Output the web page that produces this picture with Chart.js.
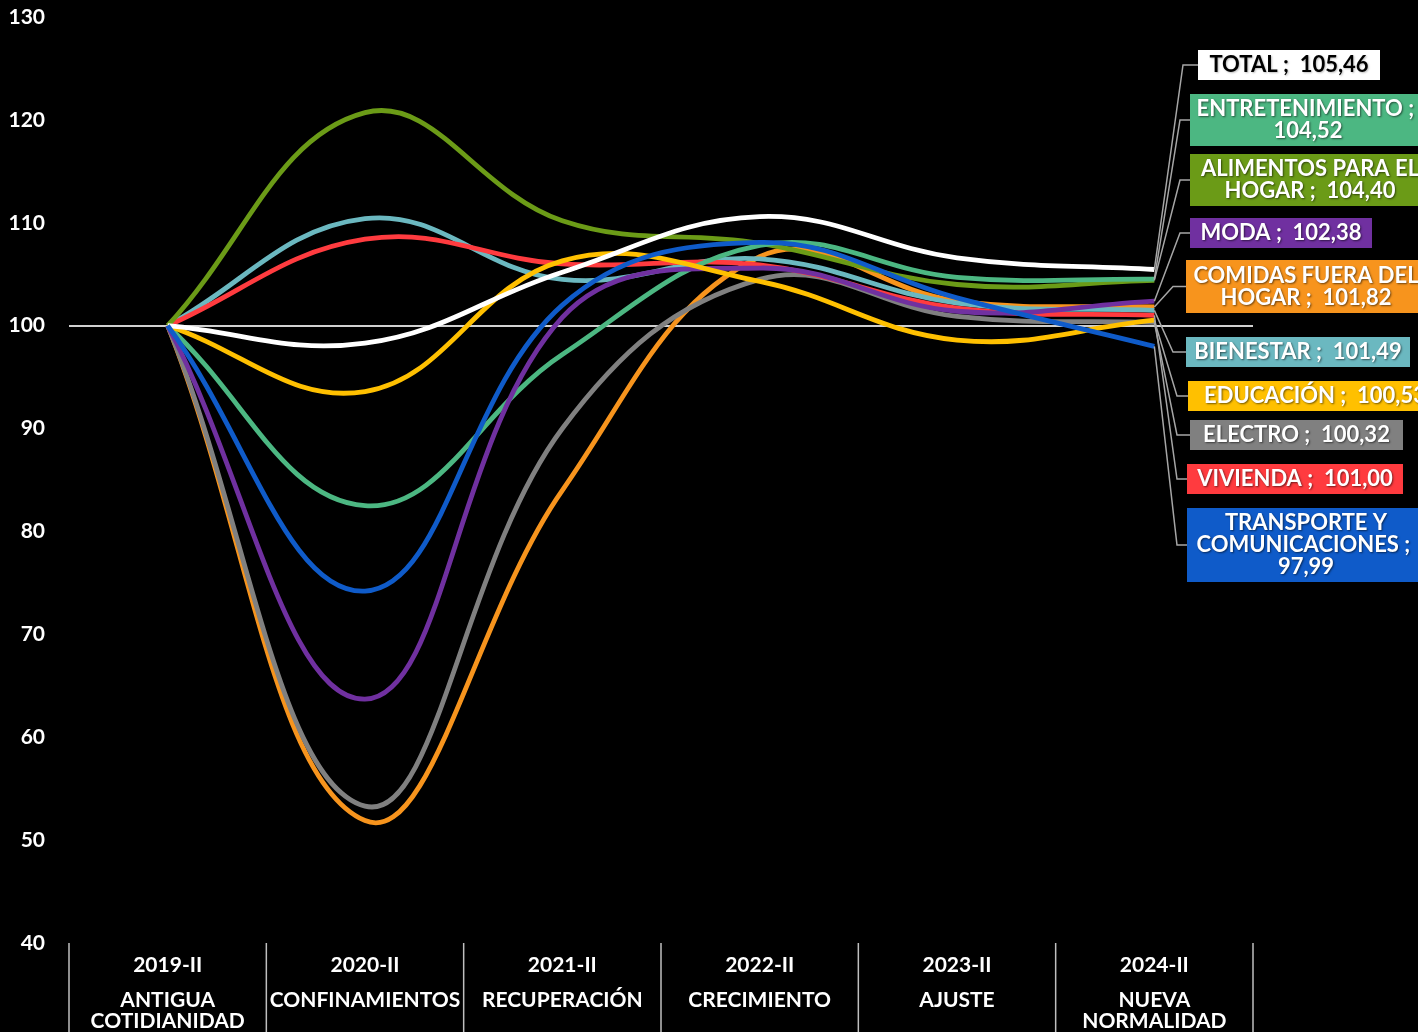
<!DOCTYPE html>
<html>
<head>
<meta charset="utf-8">
<script src="https://cdn.jsdelivr.net/npm/chart.js@4/dist/chart.umd.min.js"></script>
<style>
    html, body { margin: 0; padding: 0; background: #000; }
    #caja { width: 1418px; height: 1032px; position: relative; }
</style>
</head>
<body>
<div id="caja"><canvas id="grafIndices"></canvas></div>
<script>
// periodos y fases (eje x)
const periodos = ['2019-II', '2020-II', '2021-II', '2022-II', '2023-II', '2024-II'];
const fases = [['ANTIGUA', 'COTIDIANIDAD'], ['CONFINAMIENTOS'], ['RECUPERACIÓN'], ['CRECIMIENTO'], ['AJUSTE'], ['NUEVA', 'NORMALIDAD']];
const ticksY = [40, 50, 60, 70, 80, 90, 100, 110, 120, 130];

// valores por categoría
const transporte = [100, 74.2, 102.0, 108.1, 102.7, 97.99];
const total = [100, 98.3, 105.2, 110.6, 106.6, 105.46];
const educacion = [100, 93.6, 106.3, 104.3, 98.6, 100.53];
const moda = [100, 63.7, 100.8, 105.6, 101.4, 102.38];
const entretenimiento = [100, 82.5, 97.2, 107.8, 104.7, 104.52];
const alimentos = [100, 120.7, 110.2, 108.0, 104.0, 104.40];
const vivienda = [100, 108.4, 106.0, 105.9, 101.7, 101.00];
const bienestar = [100, 110.4, 104.5, 106.5, 102.2, 101.49];
const electro = [100, 53.3, 90.0, 104.5, 100.9, 100.32];
const comidas = [100, 51.9, 84.0, 106.7, 102.4, 101.82];

const nombres = ['TRANSPORTE Y COMUNICACIONES', 'TOTAL', 'EDUCACIÓN', 'MODA', 'ENTRETENIMIENTO',
    'ALIMENTOS PARA EL HOGAR', 'VIVIENDA', 'BIENESTAR', 'ELECTRO', 'COMIDAS FUERA DEL HOGAR'];
const series = [transporte, total, educacion, moda, entretenimiento, alimentos, vivienda, bienestar, electro, comidas];
const colores = ['#0F5BC9', '#FFFFFF', '#FFC000', '#7030A0', '#4CB782', '#6B9B17', '#FF3B3F', '#6BB8C0', '#808080', '#F7941D'];

// cajas de etiquetas a la derecha (x, y arriba, ancho, alto, codo de la linea guia)
const cajas = [
    {x: 1187, y: 508, w: 238, h: 74, codo: 1177},
    {x: 1198, y: 50, w: 182, h: 30, codo: 1183},
    {x: 1188, y: 381, w: 254, h: 30, codo: 1177},
    {x: 1190, y: 218, w: 182, h: 30, codo: 1180},
    {x: 1190, y: 94, w: 236, h: 52, codo: 1180},
    {x: 1190, y: 154, w: 240, h: 52, codo: 1180},
    {x: 1187, y: 464, w: 216, h: 30, codo: 1177},
    {x: 1186, y: 337, w: 224, h: 30, codo: 1173},
    {x: 1190, y: 420, w: 213, h: 30, codo: 1177},
    {x: 1186, y: 260, w: 240, h: 53, codo: 1173}
];

const FUENTE = 'Lato, "Open Sans", sans-serif';

function formato(v) {
    return v.toFixed(2).replace('.', ',');
}

function partir(ctx, texto, maximo) {
    const palabras = texto.split(' ');
    const lineas = [];
    let actual = '';
    palabras.forEach(p => {
        const prueba = actual ? actual + ' ' + p : p;
        if (actual && ctx.measureText(prueba).width > maximo) {
            lineas.push(actual);
            actual = p;
        } else {
            actual = prueba;
        }
    });
    if (actual) lineas.push(actual);
    return lineas;
}

// eje x con fases y separadores
const ejeFases = {
    id: 'ejeFases',
    afterDraw(chart) {
        const ctx = chart.ctx;
        const x = chart.scales.x;
        const area = chart.chartArea;
        ctx.save();
        ctx.strokeStyle = '#bfbfbf';
        ctx.lineWidth = 1.5;
        for (let i = 0; i <= periodos.length; i++) {
            let px;
            if (i === 0) px = area.left;
            else if (i === periodos.length) px = area.right;
            else px = (x.getPixelForValue(i - 1) + x.getPixelForValue(i)) / 2;
            ctx.beginPath();
            ctx.moveTo(px, area.bottom);
            ctx.lineTo(px, chart.height);
            ctx.stroke();
        }
        ctx.fillStyle = '#ffffff';
        ctx.textAlign = 'center';
        ctx.textBaseline = 'middle';
        ctx.font = 'bold 21px ' + FUENTE;
        periodos.forEach((p, i) => {
            const px = x.getPixelForValue(i);
            ctx.fillText(p, px, area.bottom + 22);
            fases[i].forEach((f, j) => {
                ctx.fillText(f, px, area.bottom + 57 + j * 21);
            });
        });
        ctx.restore();
    }
};

// etiquetas finales con lineas guia
const etiquetas = {
    id: 'etiquetas',
    afterDatasetsDraw(chart) {
        const ctx = chart.ctx;
        ctx.save();
        ctx.font = 'bold 22px ' + FUENTE;
        series.forEach((s, i) => {
            const punto = chart.getDatasetMeta(i).data[s.length - 1];
            const c = cajas[i];
            const cy = c.y + c.h / 2;
            ctx.strokeStyle = '#a6a6a6';
            ctx.lineWidth = 1.5;
            ctx.beginPath();
            ctx.moveTo(punto.x, punto.y);
            ctx.lineTo(c.codo, cy);
            ctx.lineTo(c.x, cy);
            ctx.stroke();
        });
        series.forEach((s, i) => {
            const c = cajas[i];
            ctx.fillStyle = colores[i];
            ctx.fillRect(c.x, c.y, c.w, c.h);
            const texto = nombres[i] + ' ;  ' + formato(s[s.length - 1]);
            const lineas = partir(ctx, texto, 250);
            const esBlanco = colores[i] === '#FFFFFF';
            ctx.fillStyle = esBlanco ? '#000000' : '#ffffff';
            ctx.shadowColor = esBlanco ? 'rgba(0,0,0,0.25)' : 'rgba(0,0,0,0.55)';
            ctx.shadowOffsetX = 1;
            ctx.shadowOffsetY = 1;
            ctx.shadowBlur = 2;
            ctx.textAlign = 'center';
            ctx.textBaseline = 'middle';
            const alto = 22;
            const inicio = c.y + c.h / 2 - (lineas.length - 1) * alto / 2;
            lineas.forEach((l, j) => {
                ctx.fillText(l, c.x + c.w / 2, inicio + j * alto);
            });
            ctx.shadowColor = 'transparent';
        });
        ctx.restore();
    }
};

const ctx = document.getElementById('grafIndices').getContext('2d');
const grafico = new Chart(ctx, {
    type: 'line',
    data: {
        labels: periodos,
        datasets: series.map((s, i) => ({
            label: nombres[i],
            data: s,
            borderColor: colores[i],
            backgroundColor: colores[i],
            borderWidth: 4.8,
            pointRadius: 0,
            tension: 0.4,
            fill: false
        }))
    },
    options: {
        responsive: true,
        maintainAspectRatio: false,
        animation: false,
        layout: {
            autoPadding: false,
            padding: {top: 17, right: 165, bottom: 89, left: 0}
        },
        plugins: {
            legend: {display: false},
            tooltip: {enabled: false}
        },
        scales: {
            x: {
                type: 'category',
                offset: true,
                display: false
            },
            y: {
                min: 40,
                max: 130,
                afterFit(scale) {
                    scale.width = 69;
                    scale.paddingTop = 0;
                    scale.paddingBottom = 0;
                },
                afterBuildTicks(scale) { scale.ticks = ticksY.map(v => ({value: v})); },
                border: {display: false},
                grid: {
                    drawTicks: false,
                    color: c => c.tick && c.tick.value === 100 ? '#d0d0d0' : 'transparent',
                    lineWidth: 2
                },
                ticks: {
                    color: '#ffffff',
                    padding: 24,
                    font: {family: FUENTE, size: 21, weight: 'bold'}
                }
            }
        }
    },
    plugins: [ejeFases, etiquetas]
});
</script>
</body>
</html>
